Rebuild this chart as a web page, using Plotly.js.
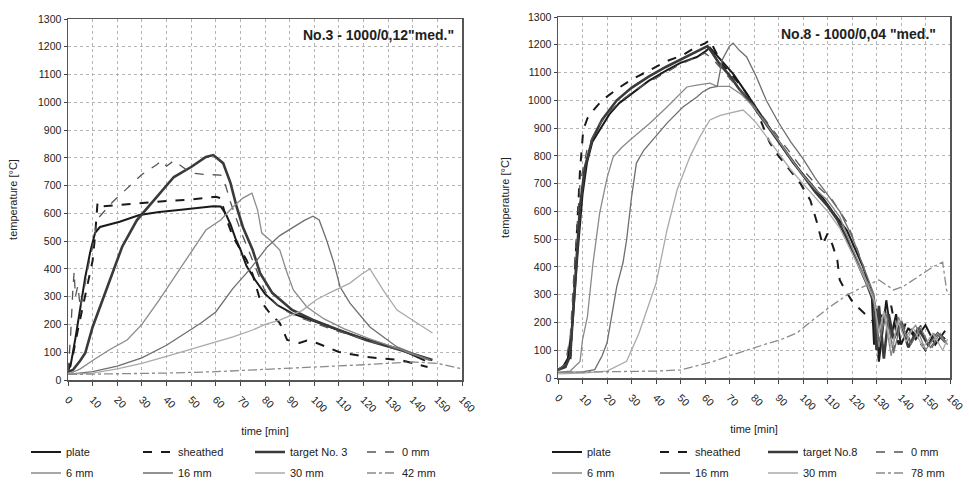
<!DOCTYPE html>
<html>
<head>
<meta charset="utf-8">
<script src="https://cdn.plot.ly/plotly-3.0.1.min.js"></script>
<style>html,body{margin:0;padding:0;background:#fff;}#chart{width:969px;height:482px;}</style>
</head>
<body>
<div id="chart"></div>
<script>
// ---------- Test No.3 (left) ----------
const L_plate_t = [0,1,3,5,7,9,11,13,17,21,29,37,45,52,56,59,62,64,66,68,70,72.5,76,80,85,91,99,108,120,135,145];
const L_plate_T = [40,50,150,263,370,460,530,551,560,570,594,605,612,618,623,626,625,600,560,510,470,410,360,310,270,240,215,185,150,110,70];

const L_sheathed_t = [0,2,4,6,8,10,11,12,14,20,30,40,50,60,62,64.5,67,70,72.5,75,78,82,86,89,94,97,101,110,121,135,146];
const L_sheathed_T = [30,90,180,260,340,430,520,640,625,630,638,645,650,660,655,576,515,470,432,380,288,240,205,144,133,142,133,101,83,72,47];

const L_target_t = [0,2,5,7,10,14,17,22,28,36,43,50,56,59,61,63,66,68.5,71,75,78,83,91,99.5,110,121,135,148];
const L_target_T = [30,36,70,97,191,290,360,480,576,660,731,767,803,810,795,781,709,623,551,468,385,313,252,216,180,144,108,72];

const L_0mm_t = [0,1,2,2.5,3,4,5,6,8,10,12,14,18,24,30,36,38,40,43,50,56,62,64,66,70,75,80,86,94,108,121,135,148];
const L_0mm_T = [30,150,330,390,300,340,260,300,400,480,580,600,640,690,740,775,790,770,790,745,740,738,700,640,540,430,320,260,225,180,144,108,70];

const L_6mm_t = [0,5,10,17,24,30,37,44,51,56,62,67,71,74.7,77,78.7,82,86,89,91.5,97,104,112,122,135,147];
const L_6mm_T = [20,40,70,110,144,200,288,380,470,540,576,623,655,673,612,529,504,468,385,324,263,220,185,150,110,70];

const L_16mm_t = [0,10,20,30,40,48,54,60,67,74,81,86,91.5,96,99.5,102,105,108,110.5,114.5,122.6,133.6,147];
const L_16mm_T = [20,30,50,80,125,169,205,245,330,400,480,520,551,575,590,576,504,421,335,277,191,119,72];

const L_30mm_t = [0,10,20,30,40,50,60,67,75,80,86,95,101,106,114.5,119,122.6,128,133.6,141.7,148];
const L_30mm_T = [20,25,40,60,85,110,135,155,180,200,216,250,290,313,349,380,400,324,252,205,169];

const L_42mm_t = [0,20,40,60,80,100,120,140,150,160];
const L_42mm_T = [20,22,25,30,38,45,55,65,60,40];

// ---------- Test No.8 (right) ----------
const R_plate_t = [0,2,4,6,8,10,11.8,14,17,21,25,30.6,37,44.5,50,56.7,60,62,64,67,71.5,75,78,81,85,90.6,96,103,108,112,118,124.5,128,129,130,131,133,134,136,138,140,143,146,150,154,158];
const R_plate_T = [30,40,70,200,450,660,774,850,893,950,990,1026,1070,1109,1135,1156,1175,1190,1170,1140,1095,1050,1010,970,915,845,775,700,650,600,530,400,310,120,250,60,200,280,150,230,120,180,140,190,120,170];

const R_sheathed_t = [0,3,5,6.3,7.6,9,10.3,12,14.5,18,24,30,37.6,44,51,56,60,62,64,67,71,75,80,86.5,90,94.7,99,103,105.7,108,110,112,114,115,117,120.5,124,128.5,130,131,132,134,136,139,142,146,150,154,158];
const R_sheathed_T = [30,40,54,292,533,749,893,935,965,1000,1040,1075,1109,1140,1163,1190,1205,1217,1181,1130,1090,1050,985,846,800,749,700,640,560,480,520,480,425,353,320,270,240,205,140,60,230,180,260,120,200,150,100,170,140];

const R_target_t = [0,3,5,7,9,11,14,18,24,30,37,44,51,57,61,63,66,70,74,78,82,86,90,95,100,105,110,114,118,122,126,129,130,131,133,135,137,140,143,147,151,155,158];
const R_target_T = [30,40,80,350,620,760,860,930,1000,1045,1085,1120,1150,1175,1195,1170,1130,1090,1040,1000,950,900,850,790,730,670,620,570,500,420,340,270,100,260,70,230,140,200,110,180,120,160,130];

const R_0mm_t = [0,3,5,7,9,12,16,20,26,32,40,48,55,60,63,67,72,77,82,88,94,100,106,112,118,124,128,131,134,137,140,144,148,152,156,159];
const R_0mm_T = [30,50,150,450,700,830,900,950,1000,1040,1080,1120,1150,1170,1150,1110,1060,1010,960,890,820,750,690,640,560,420,300,180,250,100,210,130,190,100,160,110];

const R_6mm_t = [0,5,9,10,12,14.3,17,20,22.5,26,29.4,33,37.6,44.5,52.6,56.7,60,62,65,70,75,80,85,90,95,100,105,110,115,120,125,129,131,133,136,139,142,146,150,155,158];
const R_6mm_T = [20,25,60,137,220,414,594,720,796,830,857,885,918,976,1048,1055,1060,1062,1050,1050,1020,975,915,855,790,730,680,640,580,470,370,290,110,240,80,220,150,190,100,160,130];

const R_16mm_t = [0,10,15,18,20,22.4,24,26.5,28,30,32,35,37.6,44.5,51,56.7,59,62,65,67,70,71.5,74,77,81,85,90,95,100,105,110,115,120,125,129,131,134,137,140,144,148,152,156,159];
const R_16mm_T = [20,22,30,80,126,256,330,414,497,650,774,820,846,918,976,1012,1030,1045,1050,1145,1195,1206,1180,1156,1084,1000,920,850,790,720,660,600,510,390,300,130,230,90,200,120,180,110,160,120];

const R_30mm_t = [0,10,20,28,33,36,40,44.5,48.6,54,58,62,66,70,75.5,78,81,85,90,95,100,105,110,115,120,125,129,131,133,136,139,142,145,149,153,157,159];
const R_30mm_T = [15,18,25,60,160,234,340,533,677,800,870,929,945,954,965,945,918,870,810,750,700,650,600,540,450,360,280,160,240,110,200,130,180,110,160,100,140];

const R_78mm_t = [0,20,40,50,63,70,77,84,90.6,97.5,104,111,118,124.5,131,134,137,141,145,149,153,157,158.6,159.5];
const R_78mm_T = [20,22,25,29,58,80,101,120,137,162,209,256,299,328,353,335,317,330,353,375,400,417,317,300];

// ---------- styles ----------
const styles = {
  plate:    {color:'#1a1a1a', width:2,   dash:'solid'},
  sheathed: {color:'#1a1a1a', width:2,   dash:'dash'},
  target:   {color:'#3a3a3a', width:2.6, dash:'solid'},
  mm0:      {color:'#555555', width:1.3, dash:'dash'},
  mm6:      {color:'#8a8a8a', width:1.3, dash:'solid'},
  mm16:     {color:'#6e6e6e', width:1.3, dash:'solid'},
  mm30:     {color:'#aaaaaa', width:1.3, dash:'solid'},
  mmX:      {color:'#8a8a8a', width:1.3, dash:'dashdot'}
};

function tr(x, y, name, st, xa, ya, leg) {
  return {x:x, y:y, name:name, type:'scatter', mode:'lines',
          line:{color:st.color, width:st.width, dash:st.dash},
          xaxis:xa, yaxis:ya, legend:leg, hoverinfo:'skip'};
}

const data = [
  tr(L_plate_t, L_plate_T, 'plate', styles.plate, 'x', 'y', 'legend'),
  tr(L_sheathed_t, L_sheathed_T, 'sheathed', styles.sheathed, 'x', 'y', 'legend'),
  tr(L_target_t, L_target_T, 'target No. 3', styles.target, 'x', 'y', 'legend'),
  tr(L_0mm_t, L_0mm_T, '0 mm', styles.mm0, 'x', 'y', 'legend'),
  tr(L_6mm_t, L_6mm_T, '6 mm', styles.mm6, 'x', 'y', 'legend2'),
  tr(L_16mm_t, L_16mm_T, '16 mm', styles.mm16, 'x', 'y', 'legend2'),
  tr(L_30mm_t, L_30mm_T, '30 mm', styles.mm30, 'x', 'y', 'legend2'),
  tr(L_42mm_t, L_42mm_T, '42 mm', styles.mmX, 'x', 'y', 'legend2'),

  tr(R_plate_t, R_plate_T, 'plate', styles.plate, 'x2', 'y2', 'legend3'),
  tr(R_sheathed_t, R_sheathed_T, 'sheathed', styles.sheathed, 'x2', 'y2', 'legend3'),
  tr(R_target_t, R_target_T, 'target No.8', styles.target, 'x2', 'y2', 'legend3'),
  tr(R_0mm_t, R_0mm_T, '0 mm', styles.mm0, 'x2', 'y2', 'legend3'),
  tr(R_6mm_t, R_6mm_T, '6 mm', styles.mm6, 'x2', 'y2', 'legend4'),
  tr(R_16mm_t, R_16mm_T, '16 mm', styles.mm16, 'x2', 'y2', 'legend4'),
  tr(R_30mm_t, R_30mm_T, '30 mm', styles.mm30, 'x2', 'y2', 'legend4'),
  tr(R_78mm_t, R_78mm_T, '78 mm', styles.mmX, 'x2', 'y2', 'legend4')
];

const W = 969, H = 482;
const fontFam = 'Liberation Sans, Arial, sans-serif';

function xax(dom, anchor) {
  return {domain:dom, anchor:anchor, range:[0,160], dtick:10, tick0:0,
    tickangle:45, ticks:'outside', ticklen:4, tickcolor:'#444', ticklabelstandoff:4,
    showgrid:true, gridcolor:'#b5b5b5', griddash:'dot', gridwidth:1,
    showline:true, linecolor:'#555', linewidth:1.5, mirror:true,
    zeroline:false, fixedrange:true, automargin:false,
    tickfont:{size:10.5, color:'#222', family:fontFam},
    title:{text:'time [min]', font:{size:11, color:'#222', family:fontFam}, standoff:14}};
}
function yax(dom, anchor, so) {
  return {domain:dom, anchor:anchor, range:[0,1300], dtick:100, tick0:0,
    ticks:'outside', ticklen:3, tickcolor:'#444',
    showgrid:true, gridcolor:'#b5b5b5', griddash:'dot', gridwidth:1,
    showline:true, linecolor:'#555', linewidth:1.5, mirror:true,
    zeroline:false, fixedrange:true, automargin:false,
    tickfont:{size:10.5, color:'#222', family:fontFam},
    title:{text:'temperature [°C]', font:{size:11, color:'#222', family:fontFam}, standoff:so}};
}
function leg(xpx, ypx, ew) {
  return {orientation:'h', x:xpx/W, y:1 - ypx/H, xanchor:'left', yanchor:'middle',
    entrywidth:ew, entrywidthmode:'pixels', itemwidth:30, bgcolor:'rgba(0,0,0,0)',
    borderwidth:0, font:{size:11, color:'#222', family:fontFam}, tracegroupgap:0};
}

const layout = {
  width:W, height:H,
  margin:{l:0, r:0, t:0, b:0, autoexpand:false},
  paper_bgcolor:'#ffffff', plot_bgcolor:'#ffffff',
  font:{family:fontFam, color:'#222', size:11},
  showlegend:true,
  xaxis: xax([68/W, 462/W], 'y'),
  yaxis: yax([1-380/H, 1-19/H], 'x', 18),
  xaxis2: xax([558/W, 950/W], 'y2'),
  yaxis2: yax([1-378/H, 1-17/H], 'x2', 16),
  legend: leg(26, 452, 67),
  legend2: leg(26, 473, 67),
  legend3: leg(547, 452, 63),
  legend4: leg(547, 473, 63),
  annotations:[
    {xref:'paper', yref:'paper', x:456/W, y:1-35/H, xanchor:'right', yanchor:'middle',
     text:'<b>No.3 - 1000/0,12"med."</b>', showarrow:false, font:{size:14, color:'#222', family:fontFam}},
    {xref:'paper', yref:'paper', x:938/W, y:1-34/H, xanchor:'right', yanchor:'middle',
     text:'<b>No.8 - 1000/0,04 "med."</b>', showarrow:false, font:{size:14, color:'#222', family:fontFam}}
  ]
};

Plotly.newPlot('chart', data, layout, {staticPlot:true, displayModeBar:false});
</script>
</body>
</html>
